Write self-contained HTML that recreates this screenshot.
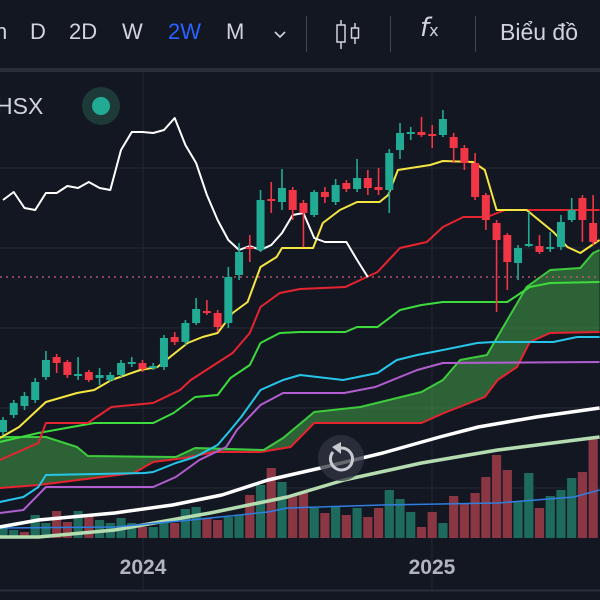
<!DOCTYPE html>
<html><head><meta charset="utf-8"><style>
body{margin:0;background:#131722;width:600px;height:600px;overflow:hidden;font-family:"Liberation Sans","DejaVu Sans",sans-serif}
#tb{position:absolute;left:0;top:0;width:600px;height:68px;background:#131722}
.t{position:absolute;top:19px;font-size:22px;color:#d1d4dc}
.sep{position:absolute;top:16px;width:1px;height:36px;background:#434651}
#bar{position:absolute;left:0;top:68px;width:600px;height:4px;background:#2a2e39}
svg{position:absolute;left:0;top:0}
</style></head><body>
<div id="tb">
<span class="t" style="left:-5px">n</span>
<span class="t" style="left:30px">D</span>
<span class="t" style="left:69px">2D</span>
<span class="t" style="left:122px">W</span>
<span class="t" style="left:168px;color:#2962ff">2W</span>
<span class="t" style="left:226px">M</span>
<svg width="14" height="10" style="left:273px;top:30px"><polyline points="2,2 7,7 12,2" fill="none" stroke="#d1d4dc" stroke-width="1.6"/></svg>
<div class="sep" style="left:306px"></div>
<svg width="30" height="30" style="left:333px;top:19px"><line x1="8" y1="1" x2="8" y2="30" stroke="#d1d4dc" stroke-width="1.5"/><rect x="4" y="6" width="8" height="17" fill="#131722" stroke="#d1d4dc" stroke-width="1.5"/><line x1="22" y1="4" x2="22" y2="25" stroke="#d1d4dc" stroke-width="1.5"/><rect x="18.5" y="9" width="7" height="10" fill="#131722" stroke="#d1d4dc" stroke-width="1.5"/></svg>
<div class="sep" style="left:390px"></div>
<span class="t" style="left:420px;font-family:'DejaVu Sans',sans-serif;font-style:italic;font-size:26px;top:13px">f<span style="font-size:16px;font-style:normal">x</span></span>
<div class="sep" style="left:475px"></div>
<span class="t" style="left:500px;font-size:23px">Biểu đồ</span>
</div>
<div id="bar"></div>
<svg id="chart" width="600" height="600"></svg>
<script>
const opens=[168,185,194,200,223,243,238,224,228,222,220,225,236,237,232,233,263,258,277,289,287,277,325,353,350,401,398,410,397,385,408,398,417,411,422,413,410,450,466,468,466,465,463,452,437,405,377,365,337,354,354,351,353,380,402,377];
const closes=[180,197,204,218,240,237,225,226,220,225,225,237,238,231,234,262,258,277,291,287,273,323,348,351,400,399,412,390,387,408,403,415,411,422,412,410,447,467,468,465,464,481,452,437,403,380,360,338,352,356,348,353,378,390,380,358];
const highs=[183,200,208,222,249,246,240,243,230,232,228,240,243,240,237,265,268,280,302,300,290,333,357,365,410,418,431,413,400,410,413,421,420,441,430,432,451,477,473,483,475,490,467,455,447,407,380,367,355,388,365,368,385,402,405,405];
const lows=[165,182,190,197,220,227,222,220,218,215,218,223,233,228,230,230,255,255,275,285,268,272,320,338,348,387,390,380,353,383,397,395,408,408,405,405,387,441,460,463,452,463,437,430,400,370,288,310,320,353,346,348,350,378,358,355];
const volumes=[10,8,6,23,15,27,16,27,23,18,15,20,15,11,11,16,15,29,31,20,18,21,23,43,53,70,56,43,45,30,25,31,23,30,21,30,48,39,26,11,26,15,42,34,45,61,83,68,36,65,30,42,48,60,66,101];
const volUp=[1,1,0,1,1,0,0,1,0,1,1,1,1,0,1,1,0,1,1,0,0,1,1,0,1,0,1,0,0,1,0,1,0,1,0,0,1,1,1,0,0,1,0,0,0,0,0,0,1,1,0,1,1,1,0,0];
const lagging=[400,408,392,390,407,407,414,412,418,412,410,450,468,468,467,470,482,455,437,405,380,360,350,354,350,355,367,385,387,362,358,358,358,340,323];
const tenkan=[[-0.3,162],[1.5,173],[4,198],[6.9,207],[8.5,210],[10.1,220],[12.8,230],[14.4,233],[17.2,257],[18.6,263],[20,267],[21.4,287],[22.8,298],[24,333],[25.5,343],[26,352],[27.7,352],[28.9,352],[29.8,377],[31.4,390],[33,398],[35.1,398],[35.9,405],[36.8,430],[39.8,435],[41,439],[43.8,438],[44.9,430],[46,390],[48.8,390],[51.3,368],[52.6,353],[53.8,347],[55.6,360]];
const kijun=[[-0.3,140],[3.3,157],[4,177],[7.9,177],[10.1,193],[14,197],[16.5,210],[17.5,220],[21.4,247],[23,267],[24,293],[25.8,307],[27.7,311],[31.9,313],[34.9,328],[37,352],[39.5,358],[41,373],[42.9,383],[45.1,383],[46.8,390],[55.6,390]];
const greenLine=[[-0.3,158],[3.3,167],[8.5,177],[14,177],[15.9,187],[17.9,203],[20,205],[21.2,222],[23,235],[24,257],[25.8,267],[27.7,268],[31.9,268],[33,273],[34.9,273],[37,290],[39,295],[41,298],[47,298],[49.1,313],[51,317],[55.6,318]];
const spanA=[[-0.3,163],[4,163],[6.9,153],[7.9,144],[16.1,143],[17.9,152],[24.3,150],[26.1,162],[29,188],[33.3,193],[39,208],[41,220],[42.6,240],[45.1,245],[47,280],[48.8,313],[51,330],[53.8,332],[55,347],[55.6,350]];
const spanB=[[-0.3,112],[3.3,115],[12.2,127],[14,138],[16.9,142],[19.7,148],[24,148],[26.8,153],[29,177],[39,177],[41.1,187],[44.9,203],[46.1,220],[47.9,233],[49.1,258],[51,267],[55.6,268]];
const cyanLine=[[-0.3,98],[1.9,103],[3.3,113],[4,125],[13.2,127],[14,128],[16.1,137],[17.9,143],[20,155],[21.2,170],[22.2,183],[24,210],[26.1,220],[27.7,225],[31.7,220],[34.9,227],[36.7,240],[38.6,245],[41,250],[44.2,257],[45.7,258],[51.3,258],[53.5,263],[55.6,263]];
const purpleLine=[[-0.3,87],[1.9,90],[4,113],[14,113],[16.1,123],[18.3,140],[20.8,153],[21.8,170],[24,195],[26.1,207],[31.8,207],[34.7,213],[36.3,220],[38.6,230],[41,237],[55.6,238]];
const maWhite=[[-0.3,73],[3.3,80],[10.4,87],[15.8,95],[20.4,105],[24.7,120],[30,133],[35.4,147],[40.7,163],[44.3,173],[49.7,183],[55.6,192]];
const maGreen=[[-0.3,63],[3.3,63],[10.4,70],[19.3,87],[26.5,103],[31.8,120],[39,137],[46.1,150],[55.6,163]];
const volMA=[[-0.3,10],[10.4,11],[17.5,18],[24.7,26],[26.5,30],[35.4,33],[46.1,35],[53.2,41],[55.6,48]];
const gridPrices=[432,352,272,192,112];
const lastPrice=323;
const yearTicks=[[13.05,'2024'],[39.98,'2025']];

const NS='http://www.w3.org/2000/svg';
const svg=document.getElementById('chart');
const X=t=>3+10.73*t;
const Y=p=>600-p;
const VY=v=>538-v;
function mk(tag,attrs,parent){const e=document.createElementNS(NS,tag);for(const k in attrs)e.setAttribute(k,attrs[k]);(parent||svg).appendChild(e);return e;}
const cp=mk('clipPath',{id:'cp'});mk('rect',{x:0,y:72,width:600,height:518},cp);
const g=mk('g',{'clip-path':'url(#cp)'});
gridPrices.forEach(p=>{const l=mk('line',{x1:0,x2:600,y1:Y(p),y2:Y(p),stroke:'#242833','stroke-width':1},g);

});
yearTicks.forEach(([t])=>{const l=mk('line',{x1:X(t),x2:X(t),y1:72,y2:590,stroke:'#242833','stroke-width':1},g);

});
volumes.forEach((v,i)=>{const r=mk('rect',{x:X(i)-4.6,y:VY(v),width:9.2,height:v,fill:volUp[i]?'#1e6b5d':'#8b3743'},g);

});
function pts(arr,f){return arr.map(([t,v])=>X(t).toFixed(1)+','+f(v).toFixed(1)).join(' ');}
const cloud=mk('polygon',{points:pts(spanA,Y)+' '+pts(spanB.slice().reverse(),Y),fill:'rgba(67,160,71,0.55)'},g);


function line(arr,f,color,w,name){const l=mk('polyline',{points:pts(arr,f),fill:'none',stroke:color,'stroke-width':w,'stroke-linejoin':'round'},g);

return l;}
line(maGreen,Y,'#b5dcb0',3.5,'ma-long-line');
line(volMA,VY,'#2f7ee0',1.5,'volume-ma-line');
line(maWhite,Y,'#ffffff',3.5,'ma-white-line');
line(spanB,Y,'#e6242f',2,'span-b-line');
line(spanA,Y,'#3dcc3d',2,'span-a-line');
line(purpleLine,Y,'#b25ed0',2,'purple-line');
line(cyanLine,Y,'#26c6ea',2,'cyan-line');
line(greenLine,Y,'#3ddc3d',2,'green-line');
line(kijun,Y,'#e6242f',2,'kijun-line');
line(tenkan,Y,'#f5e642',2,'tenkan-line');
const pl=mk('line',{x1:0,x2:600,y1:Y(lastPrice),y2:Y(lastPrice),stroke:'#d2607a','stroke-width':1.3,'stroke-dasharray':'2 4'},g);


line(lagging.map((v,i)=>[i,v]),Y,'#ffffff',2,'lagging-line');
opens.forEach((o,i)=>{const c=closes[i],up=c>=o,col=up?'#22ab94':'#f23645';
const cg=mk('g',{},g);


mk('line',{x1:X(i),x2:X(i),y1:Y(highs[i]),y2:Y(lows[i]),stroke:col,'stroke-width':1.6},cg);
const top=Y(Math.max(o,c)),h=Math.max(Math.abs(o-c),2);
mk('rect',{x:X(i)-4,y:top,width:8,height:h,fill:col},cg);});
const lt=mk('text',{x:-4,y:114,'font-size':23,fill:'#d1d4dc','font-family':'Liberation Sans, sans-serif'});lt.textContent='HSX';


const halo=mk('circle',{cx:101,cy:106,r:19,fill:'#1d3a38'});


const dot=mk('circle',{cx:101,cy:106,r:9,fill:'#22ab94'});


const rb=mk('g',{});


mk('circle',{cx:341,cy:458,r:23,fill:'rgba(50,54,66,0.75)'},rb);
mk('path',{d:'M333 452 A11 11 0 1 0 341 448',fill:'none',stroke:'#c8cad0','stroke-width':3},rb);
mk('path',{d:'M341 442 L341 454 L332 447 Z',fill:'#c8cad0'},rb);
const ax=mk('line',{x1:0,x2:600,y1:590.5,y2:590.5,stroke:'#2a2e39','stroke-width':2});


yearTicks.forEach(([t,s])=>{const tx=mk('text',{x:X(t),y:574,'font-size':21,'font-weight':'bold',fill:'#b2b5be','text-anchor':'middle','font-family':'Liberation Sans, sans-serif'});tx.textContent=s;

});
</script>
</body></html>
